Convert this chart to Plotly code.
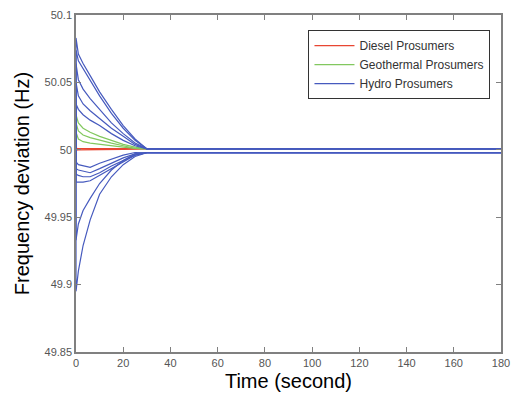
import plotly.graph_objects as go

# time samples (s)
t_pts = [0, 0, 1, 3, 6, 10, 15, 20, 25, 30, 180]

# Hydro prosumers (blue) - upper group
hydro_up = [
    [50.0, 50.083, 50.071, 50.064, 50.055, 50.043, 50.030, 50.018, 50.008, 50.0007, 50.0007],
    [50.0, 50.074, 50.066, 50.060, 50.051, 50.040, 50.027, 50.016, 50.007, 50.0007, 50.0007],
    [50.0, 50.064, 50.052, 50.045, 50.038, 50.030, 50.020, 50.012, 50.005, 50.0007, 50.0007],
    [50.0, 50.050, 50.040, 50.034, 50.029, 50.023, 50.016, 50.010, 50.004, 50.0007, 50.0007],
    [50.0, 50.034, 50.030, 50.026, 50.022, 50.018, 50.012, 50.007, 50.003, 50.0007, 50.0007],
]
# Hydro prosumers (blue) - lower group
hydro_low = [
    [50.0, 49.991, 49.989, 49.988, 49.987, 49.990, 49.993, 49.996, 49.998, 49.9978, 49.9978],
    [50.0, 49.986, 49.985, 49.984, 49.983, 49.986, 49.990, 49.994, 49.997, 49.9978, 49.9978],
    [50.0, 49.982, 49.981, 49.980, 49.980, 49.983, 49.988, 49.992, 49.996, 49.9978, 49.9978],
    [50.0, 49.976, 49.976, 49.976, 49.977, 49.981, 49.986, 49.991, 49.996, 49.9978, 49.9978],
    [50.0, 49.933, 49.945, 49.955, 49.964, 49.975, 49.985, 49.992, 49.997, 49.9978, 49.9978],
    [50.0, 49.895, 49.910, 49.929, 49.948, 49.967, 49.980, 49.989, 49.995, 49.9978, 49.9978],
]
# Geothermal prosumers (green)
geo = [
    [50.0, 50.026, 50.020, 50.016, 50.013, 50.010, 50.007, 50.004, 50.002, 50.0007, 50.0007],
    [50.0, 50.020, 50.014, 50.011, 50.009, 50.007, 50.005, 50.003, 50.001, 50.0007, 50.0007],
    [50.0, 50.013, 50.008, 50.006, 50.005, 50.004, 50.003, 50.002, 50.001, 50.0007, 50.0007],
]
# Diesel prosumers (red)
diesel = [
    [50.0, 50.0010, 50.0009, 50.0009, 50.0008, 50.0008, 50.0007, 50.0007, 50.0007, 50.0007, 50.0007],
    [50.0, 49.9998, 49.9999, 49.9999, 50.0000, 50.0001, 50.0002, 50.0004, 50.0006, 50.0007, 50.0007],
]

x_ticks = [0, 20, 40, 60, 80, 100, 120, 140, 160, 180]
y_ticks = [49.85, 49.9, 49.95, 50, 50.05, 50.1]
y_tick_text = ["49.85", "49.9", "49.95", "50", "50.05", "50.1"]

RED = "rgb(232,70,50)"
GREEN = "rgb(130,200,95)"
BLUE = "rgb(70,90,190)"

fig = go.Figure()

def add_group(series, color, name, width=1.2, rank=1):
    for i, ys in enumerate(series):
        fig.add_trace(go.Scatter(
            x=t_pts, y=ys, mode="lines",
            line=dict(color=color, width=width),
            name=name, legendgroup=name, showlegend=(i == 0),
            legendrank=rank, hoverinfo="skip",
        ))

add_group(diesel, RED, "Diesel Prosumers", 1.3, 1)
add_group(geo, GREEN, "Geothermal Prosumers", 1.2, 2)
add_group(hydro_up + hydro_low, BLUE, "Hydro Prosumers", 1.2, 3)

axis_common = dict(
    showline=True, linecolor="#808080", linewidth=1.5, mirror="ticks",
    ticks="inside", ticklen=5, tickcolor="#808080", tickwidth=1,
    showgrid=False, zeroline=False,
    tickfont=dict(family="Liberation Sans, Arial", size=11, color="#555555"),
)

fig.update_layout(
    width=518, height=403,
    margin=dict(l=76, r=8, t=15, b=51),
    paper_bgcolor="white", plot_bgcolor="white",
    xaxis=dict(range=[0, 180], tickvals=x_ticks,
               title=dict(text="Time (second)", standoff=6,
                          font=dict(family="Liberation Sans, Arial", size=20, color="black")),
               **axis_common),
    yaxis=dict(range=[49.85, 50.1], tickvals=y_ticks, ticktext=y_tick_text,
               title=dict(text="Frequency deviation (Hz)", standoff=10,
                          font=dict(family="Liberation Sans, Arial", size=20, color="black")),
               **axis_common),
    legend=dict(
        x=0.547, y=0.955, xanchor="left", yanchor="top",
        bgcolor="white", bordercolor="#333333", borderwidth=1,
        font=dict(family="Liberation Sans, Arial", size=12, color="#333333"),
        tracegroupgap=0, itemwidth=40,
    ),
    showlegend=True,
)

fig.write_html("out.html")
